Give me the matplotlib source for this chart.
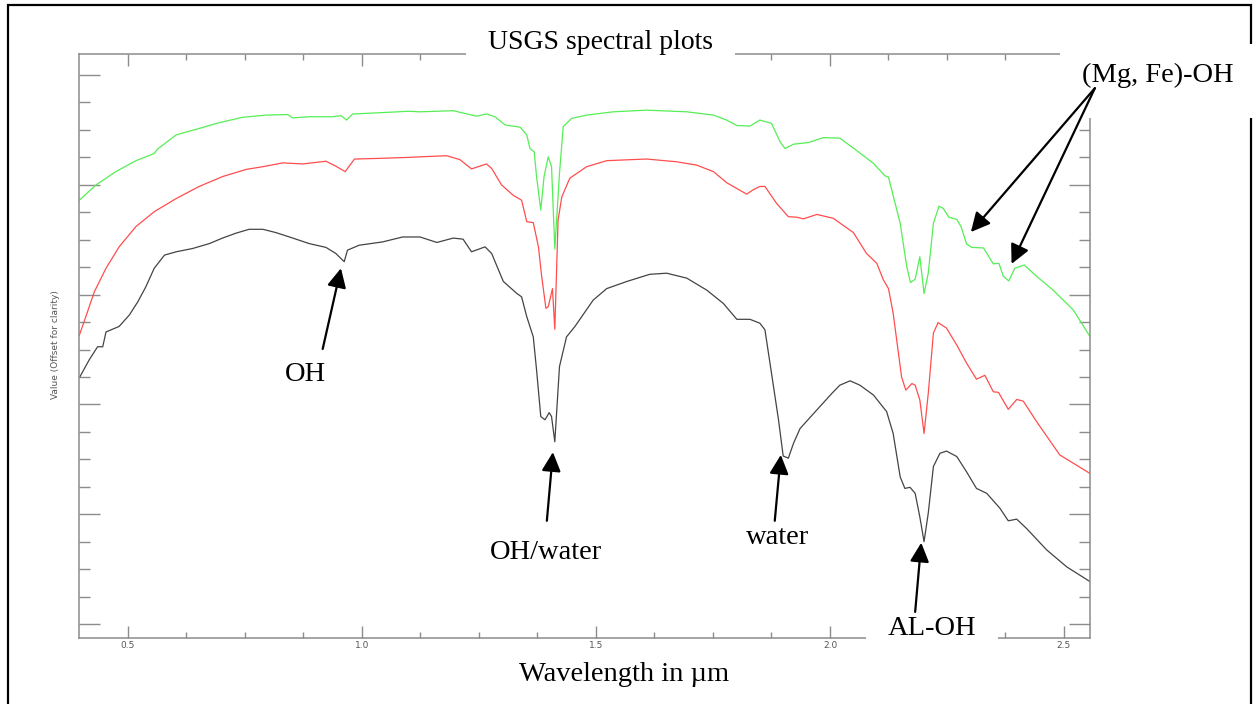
import matplotlib
matplotlib.use('Agg')
import matplotlib.pyplot as plt
from matplotlib.patches import Rectangle
from matplotlib.ticker import MultipleLocator

# spectra (wavelength in um, offset value)
wl_green = [0.396, 0.432, 0.474, 0.517, 0.556, 0.563, 0.603, 0.645, 0.694, 0.745,
            0.795, 0.841, 0.852, 0.887, 0.937, 0.955, 0.967, 0.980, 1.030, 1.100,
            1.124, 1.195, 1.245, 1.266, 1.284, 1.306, 1.338, 1.352, 1.359, 1.368,
            1.373, 1.382, 1.389, 1.398, 1.405, 1.412, 1.422, 1.430, 1.448, 1.480,
            1.537, 1.608, 1.694, 1.751, 1.779, 1.801, 1.829, 1.850, 1.875, 1.893,
            1.904, 1.922, 1.954, 1.986, 2.021, 2.053, 2.093, 2.118, 2.125, 2.150,
            2.164, 2.172, 2.182, 2.192, 2.201, 2.210, 2.221, 2.233, 2.242, 2.254,
            2.271, 2.280, 2.292, 2.303, 2.328, 2.349, 2.361, 2.370, 2.382, 2.395,
            2.415, 2.442, 2.477, 2.520, 2.556]
val_green = [0.772, 0.800, 0.824, 0.844, 0.857, 0.865, 0.891, 0.901, 0.913, 0.923,
             0.927, 0.928, 0.922, 0.924, 0.924, 0.926, 0.918, 0.929, 0.931, 0.934,
             0.933, 0.935, 0.925, 0.929, 0.924, 0.909, 0.905, 0.891, 0.866, 0.860,
             0.815, 0.754, 0.815, 0.851, 0.833, 0.683, 0.821, 0.906, 0.921, 0.927,
             0.933, 0.936, 0.933, 0.927, 0.918, 0.908, 0.907, 0.918, 0.912, 0.879,
             0.866, 0.874, 0.877, 0.886, 0.885, 0.865, 0.839, 0.816, 0.814, 0.730,
             0.651, 0.622, 0.628, 0.669, 0.602, 0.639, 0.730, 0.761, 0.757, 0.741,
             0.737, 0.724, 0.692, 0.686, 0.685, 0.656, 0.657, 0.634, 0.625, 0.648,
             0.654, 0.633, 0.608, 0.572, 0.523]

wl_red = [0.396, 0.410, 0.428, 0.453, 0.481, 0.517, 0.556, 0.603, 0.652, 0.702,
          0.752, 0.788, 0.831, 0.873, 0.923, 0.944, 0.964, 0.984, 1.030, 1.101,
          1.124, 1.181, 1.209, 1.234, 1.266, 1.277, 1.298, 1.323, 1.341, 1.352,
          1.366, 1.377, 1.384, 1.393, 1.398, 1.407, 1.412, 1.419, 1.427, 1.444,
          1.480, 1.523, 1.608, 1.672, 1.715, 1.751, 1.779, 1.822, 1.836, 1.850,
          1.861, 1.886, 1.911, 1.929, 1.943, 1.972, 2.007, 2.050, 2.078, 2.100,
          2.114, 2.125, 2.135, 2.153, 2.162, 2.175, 2.182, 2.192, 2.201, 2.210,
          2.221, 2.231, 2.249, 2.271, 2.292, 2.313, 2.331, 2.349, 2.360, 2.381,
          2.399, 2.413, 2.442, 2.491, 2.556]
val_red = [0.526, 0.560, 0.605, 0.648, 0.687, 0.724, 0.751, 0.775, 0.797, 0.815,
           0.828, 0.833, 0.840, 0.838, 0.843, 0.834, 0.824, 0.847, 0.848, 0.850,
           0.851, 0.853, 0.846, 0.829, 0.838, 0.830, 0.800, 0.781, 0.772, 0.733,
           0.731, 0.687, 0.633, 0.575, 0.578, 0.611, 0.537, 0.736, 0.778, 0.812,
           0.833, 0.844, 0.847, 0.842, 0.836, 0.824, 0.804, 0.783, 0.791, 0.797,
           0.797, 0.766, 0.742, 0.741, 0.738, 0.746, 0.739, 0.713, 0.675, 0.657,
           0.627, 0.611, 0.566, 0.450, 0.426, 0.438, 0.435, 0.408, 0.347, 0.420,
           0.530, 0.549, 0.539, 0.508, 0.475, 0.446, 0.453, 0.423, 0.422, 0.391,
           0.409, 0.406, 0.368, 0.308, 0.274]

wl_black = [0.397, 0.417, 0.435, 0.446, 0.453, 0.481, 0.503, 0.521, 0.538, 0.556,
            0.578, 0.603, 0.638, 0.674, 0.702, 0.731, 0.759, 0.788, 0.816, 0.852,
            0.887, 0.923, 0.944, 0.962, 0.969, 0.994, 1.044, 1.087, 1.124, 1.160,
            1.195, 1.216, 1.234, 1.263, 1.277, 1.302, 1.331, 1.341, 1.352, 1.366,
            1.373, 1.382, 1.391, 1.400, 1.405, 1.412, 1.422, 1.437, 1.455, 1.494,
            1.523, 1.566, 1.615, 1.651, 1.694, 1.737, 1.772, 1.801, 1.829, 1.850,
            1.861, 1.875, 1.890, 1.900, 1.911, 1.922, 1.936, 1.972, 2.004, 2.021,
            2.043, 2.064, 2.093, 2.121, 2.135, 2.150, 2.160, 2.171, 2.182, 2.192,
            2.201, 2.210, 2.221, 2.235, 2.249, 2.271, 2.292, 2.313, 2.335, 2.363,
            2.381, 2.399, 2.420, 2.463, 2.506, 2.556]
val_black = [0.450, 0.481, 0.505, 0.505, 0.532, 0.542, 0.563, 0.587, 0.614, 0.648,
             0.672, 0.678, 0.684, 0.693, 0.703, 0.712, 0.719, 0.719, 0.713, 0.703,
             0.693, 0.686, 0.675, 0.660, 0.681, 0.690, 0.696, 0.705, 0.705, 0.695,
             0.703, 0.701, 0.678, 0.687, 0.675, 0.624, 0.602, 0.596, 0.560, 0.523,
             0.463, 0.378, 0.372, 0.385, 0.378, 0.332, 0.469, 0.523, 0.542, 0.590,
             0.611, 0.624, 0.637, 0.639, 0.630, 0.608, 0.584, 0.555, 0.555, 0.548,
             0.536, 0.457, 0.372, 0.306, 0.302, 0.329, 0.356, 0.390, 0.420, 0.435,
             0.443, 0.435, 0.417, 0.387, 0.347, 0.268, 0.247, 0.249, 0.238, 0.195,
             0.150, 0.202, 0.287, 0.311, 0.315, 0.305, 0.277, 0.247, 0.238, 0.211,
             0.188, 0.191, 0.174, 0.135, 0.104, 0.077]

# labels: text, text position, list of arrow (tail, tip)
labels = [
    ('OH', (0.880, 0.443), [((0.916, 0.501), (0.955, 0.648))]),
    ('OH/water', (1.393, 0.119), [((1.395, 0.188), (1.408, 0.313))]),
    ('water', (1.887, 0.146), [((1.882, 0.188), (1.895, 0.308))]),
    ('AL-OH', (2.218, -0.020), [((2.182, 0.022), (2.195, 0.148))]),
    ('(Mg, Fe)-OH', (2.701, 0.988), [((2.566, 0.976), (2.301, 0.714)),
                                     ((2.566, 0.976), (2.388, 0.656))]),
]

W, H = 1256, 704
serif = 'Liberation Serif'
grey = '#8c8c8c'

fig = plt.figure(figsize=(W / 100, H / 100), dpi=100)
pos = [79 / W, 1 - 638 / H, (1090 - 79) / W, (638 - 54) / H]
ax = fig.add_axes(pos, zorder=0)

ax.plot(wl_green, val_green, color='#55ee55', lw=0.9)
ax.plot(wl_red, val_red, color='#ff4d4d', lw=0.9)
ax.plot(wl_black, val_black, color='#444444', lw=0.9)

ax.set_xlim(0.3953, 2.5556)
ax.set_ylim(-0.0255, 1.0383)
ax.xaxis.set_major_locator(MultipleLocator(0.5))
ax.xaxis.set_minor_locator(MultipleLocator(0.125))
ax.yaxis.set_major_locator(MultipleLocator(0.2))
ax.yaxis.set_minor_locator(MultipleLocator(0.05))
for s in ax.spines.values():
    s.set_color(grey)
    s.set_linewidth(1.1)
ax.tick_params(axis='x', which='both', direction='in', top=True, colors=grey,
               width=1, labelsize=6.5, labelcolor='#555555', pad=2.5)
ax.tick_params(axis='x', which='major', length=8.6)
ax.tick_params(axis='x', which='minor', length=4.3)
ax.tick_params(axis='y', which='both', direction='in', right=True, colors=grey,
               width=1, labelleft=False)
ax.tick_params(axis='y', which='major', length=15)
ax.tick_params(axis='y', which='minor', length=7.7)

fig.text(56 / W, 1 - 345 / H, 'Value (Offset for clarity)', rotation=90,
         ha='center', va='center', fontsize=6.5, color='#555555')

# outer frame of the slide
fig.add_artist(Rectangle((8 / W, -0.1), (1251 - 8) / W, 1.1 - 5 / H,
                         transform=fig.transFigure, fill=False,
                         edgecolor='black', lw=1.6, zorder=1))

# white boxes behind the title and labels
for x0, y0, x1, y1 in [(466, 12, 735, 68), (1060, 44, 1260, 118), (866, 620, 998, 646)]:
    fig.add_artist(Rectangle((x0 / W, 1 - y1 / H), (x1 - x0) / W, (y1 - y0) / H,
                             transform=fig.transFigure, facecolor='white',
                             edgecolor='none', zorder=5))

fig.text(600 / W, 1 - 49 / H, 'USGS spectral plots', ha='center', va='baseline',
         family=serif, fontsize=20, zorder=6)
fig.text(624 / W, 1 - 681 / H, 'Wavelength in µm', ha='center', va='baseline',
         family=serif, fontsize=20.5, zorder=6)

# overlay axes for annotations so they sit above the white boxes
top = fig.add_axes(pos, zorder=10)
top.set_xlim(ax.get_xlim())
top.set_ylim(ax.get_ylim())
top.axis('off')
for txt, (tx, ty), arrows in labels:
    top.text(tx, ty, txt, ha='center', va='baseline', family=serif,
             fontsize=20.5, clip_on=False)
    for tail, tip in arrows:
        top.annotate('', xy=tip, xytext=tail, annotation_clip=False,
                     arrowprops=dict(arrowstyle='-|>', color='black', lw=1.6,
                                     mutation_scale=29, shrinkA=0, shrinkB=0))

fig.savefig('out.png', dpi=100)
